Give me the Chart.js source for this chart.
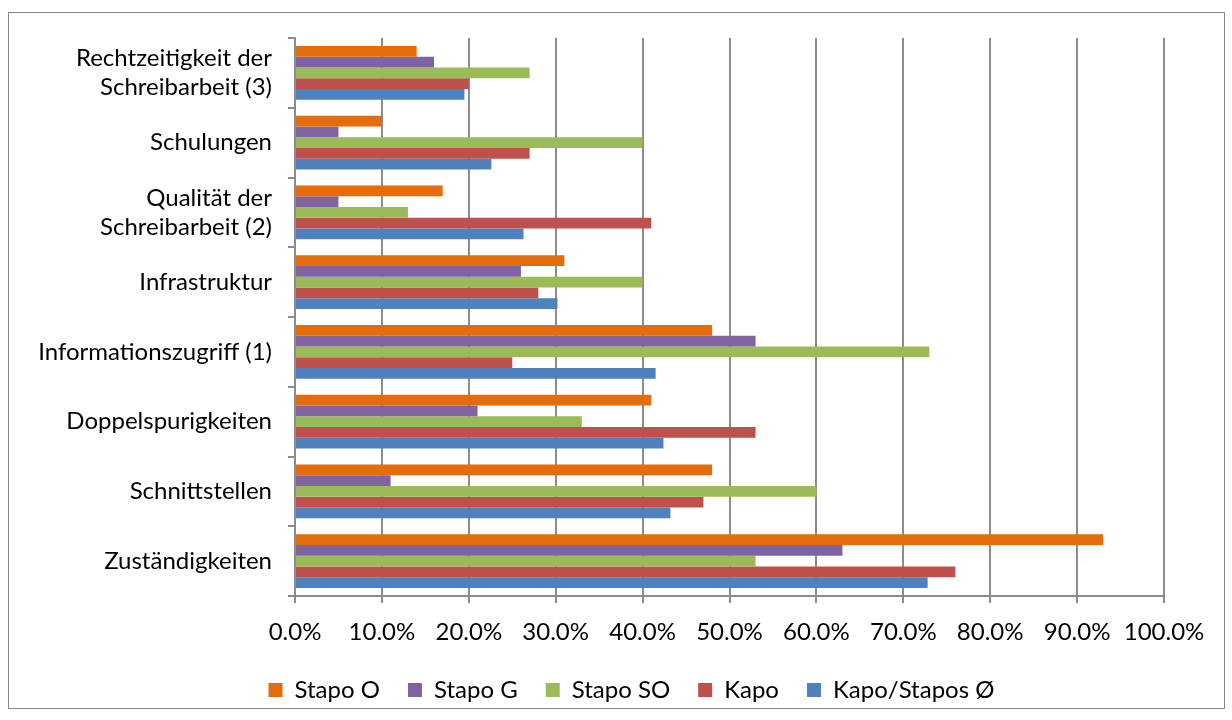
<!DOCTYPE html>
<html>
<head>
<meta charset="utf-8">
<script src="https://cdn.jsdelivr.net/npm/chart.js@4"></script>
<style>
  body { margin: 0; background: #fff; }
  #frame { position: absolute; left: 8px; top: 12px; width: 1215px; height: 695px; border: 1px solid #868686; }
</style>
</head>
<body>
<div id="frame"><canvas id="chart" width="1215" height="695"></canvas></div>
<script>
// Kategorien (von oben nach unten)
const categories = [
  ['Rechtzeitigkeit der', 'Schreibarbeit (3)'],
  'Schulungen',
  ['Qualität der', 'Schreibarbeit (2)'],
  'Infrastruktur',
  'Informationszugriff (1)',
  'Doppelspurigkeiten',
  'Schnittstellen',
  'Zuständigkeiten'
];

// Werte in Prozent
const stapoO = [14, 10, 17, 31, 48, 41, 48, 93];
const stapoG = [16, 5, 5, 26, 53, 21, 11, 63];
const stapoSO = [27, 40, 13, 40, 73, 33, 60, 53];
const kapo = [20, 27, 41, 28, 25, 53, 47, 76];
const kapoStapos = [19.5, 22.6, 26.3, 30.2, 41.5, 42.4, 43.2, 72.8];

const seriesNames = ['Stapo O', 'Stapo G', 'Stapo SO', 'Kapo', 'Kapo/Stapos Ø'];
const seriesColors = ['#E46C0A', '#8064A2', '#9BBB59', '#C0504D', '#4F81BD'];
const seriesValues = [stapoO, stapoG, stapoSO, kapo, kapoStapos];

const xTicks = [0, 10, 20, 30, 40, 50, 60, 70, 80, 90, 100];

const font = { family: 'Lato', size: 24 };
const gridColor = '#8c8c8c';

// Legende: breite Abstände zwischen den Einträgen, feste Höhe, etwas nach rechts
const legendTweak = {
  id: 'legendTweak',
  afterInit(chart) {
    const legend = chart.legend;
    const origFit = legend.fit;
    legend.fit = function () {
      origFit.call(this);
      this.height = 58;
    };
  },
  afterLayout(chart) {
    chart.legend.left += 45;
    chart.legend.right += 45;
  }
};

const ctx = document.getElementById('chart').getContext('2d');

new Chart(ctx, {
  type: 'bar',
  data: {
    labels: categories,
    datasets: seriesValues.map((vals, i) => ({
      label: seriesNames[i],
      data: vals,
      backgroundColor: seriesColors[i],
      borderWidth: 0,
      categoryPercentage: 0.77,
      barPercentage: 1.0
    }))
  },
  options: {
    indexAxis: 'y',
    responsive: false,
    animation: false,
    layout: { padding: { top: 25, right: 60, left: 0, bottom: 0 } },
    plugins: {
      legend: {
        position: 'bottom',
        labels: {
          color: '#000',
          font: font,
          boxWidth: 14,
          boxHeight: 14,
          padding: 28
        }
      },
      tooltip: { enabled: false }
    },
    scales: {
      x: {
        min: 0,
        max: 100,
        afterBuildTicks: axis => { axis.ticks = xTicks.map(v => ({ value: v })); },
        afterFit: axis => { axis.height = 54; },
        grid: { color: gridColor, lineWidth: 2, tickLength: 7 },
        border: { color: gridColor, width: 2 },
        ticks: {
          color: '#000',
          font: font,
          padding: 15,
          callback: v => v.toFixed(1) + '%'
        }
      },
      y: {
        afterFit: axis => {
          axis.width = 286;
          axis.paddingTop = 0;
          axis.paddingBottom = 0;
        },
        grid: { drawOnChartArea: false, color: gridColor, lineWidth: 2, tickLength: 7 },
        border: { color: gridColor, width: 2 },
        ticks: { color: '#000', font: font, padding: 16 }
      }
    }
  },
  plugins: [legendTweak]
});
</script>
</body>
</html>
